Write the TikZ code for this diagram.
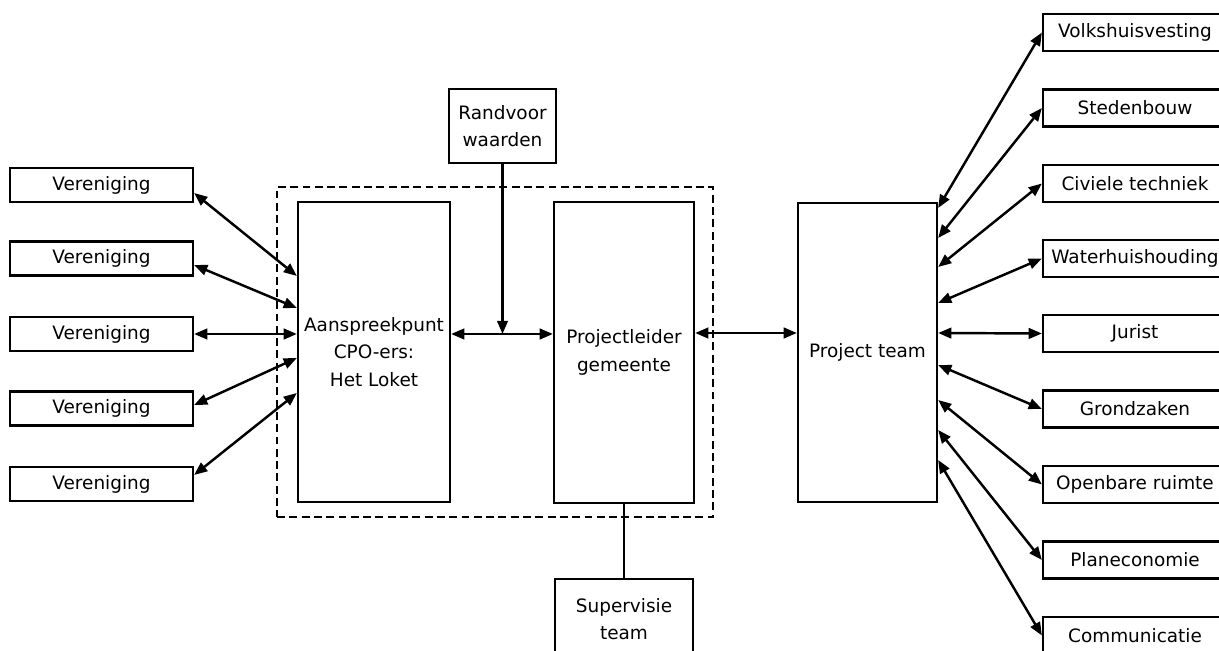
\documentclass[tikz,border=0pt]{standalone}
\usepackage{fontspec}
\setmainfont{DejaVu Sans}
\usetikzlibrary{arrows.meta,calc}

\tikzset{
  box/.style={draw, line width=1.3pt, fill=white, inner sep=0pt, align=center,
              font=\fontsize{10.5}{15.5}\selectfont},
  vbox/.style={box, minimum width=3.66cm, minimum height=0.68cm},
  dbox/.style={box, minimum width=3.68cm, minimum height=0.74cm},
  tip/.style={Triangle[length=7.5pt,width=6pt]},
  link/.style={line width=1.4pt, {Triangle[length=7.5pt,width=6pt]}-{Triangle[length=7.5pt,width=6pt]}},
  feed/.style={line width=1.4pt, -{Triangle[length=7.5pt,width=6pt]}},
  plain/.style={line width=1.2pt},
  group/.style={draw, line width=1.4pt, dash pattern=on 4.5pt off 2.5pt,
                inner sep=0pt, minimum width=8.72cm, minimum height=6.6cm}
}

\begin{document}
\begin{tikzpicture}[x=0.02cm, y=-0.02cm]
  \useasboundingbox (0,0) rectangle (1219,651);
  \fill[white] (0,0) rectangle (1219,651);
  \clip (0,0) rectangle (1219,651);

  % dashed frame round the municipal core
  \node[group] (grp) at (495,352) {};

  % associations
  \node[vbox] (v1) at (101.5,185)   {Vereniging};
  \node[vbox] (v2) at (101.5,258.5) {Vereniging};
  \node[vbox] (v3) at (101.5,334)   {Vereniging};
  \node[vbox] (v4) at (101.5,408.5) {Vereniging};
  \node[vbox] (v5) at (101.5,484)   {Vereniging};

  % core blocks
  \node[box, minimum width=3.04cm, minimum height=6cm] (ap) at (374,352)
       {Aanspreekpunt\\CPO-ers:\\Het Loket};
  \node[box, minimum width=2.8cm, minimum height=6.02cm] (pl) at (624,352.5)
       {Projectleider\\gemeente};
  \node[box, minimum width=2.14cm, minimum height=1.48cm] (rv) at (502.5,126)
       {Randvoor\\waarden};
  \node[box, minimum width=2.76cm, minimum height=1.62cm] (sv) at (624,619.5)
       {Supervisie\\team};
  \node[box, minimum width=2.78cm, minimum height=5.98cm] (pt) at (867.5,352.5)
       {Project team};

  % departments
  \node[dbox] (d1) at (1135,32.5)  {Volkshuisvesting};
  \node[dbox] (d2) at (1135,108)   {Stedenbouw};
  \node[dbox] (d3) at (1135,183.5) {Civiele techniek};
  \node[dbox] (d4) at (1135,258.5) {Waterhuishouding};
  \node[dbox] (d5) at (1135,333.5) {Jurist};
  \node[dbox] (d6) at (1135,409)   {Grondzaken};
  \node[dbox] (d7) at (1135,484.5) {Openbare ruimte};
  \node[dbox] (d8) at (1135,560)   {Planeconomie};
  \node[dbox] (d9) at (1135,635.5) {Communicatie};

  % associations <-> desk
  \draw[link] ($(v1.east)+(0,8)$)   -- (ap.west |- 0,276);
  \draw[link] ($(v2.east)+(0,6.5)$) -- (ap.west |- 0,308);
  \draw[link] (v3.east)             -- (ap.west |- 0,334);
  \draw[link] ($(v4.east)+(0,-3.5)$) -- (ap.west |- 0,358);
  \draw[link] ($(v5.east)+(0,-9)$)  -- (ap.west |- 0,393);

  % desk <-> project leader, preconditions feeding in
  \coordinate (mid) at (rv.south |- 0,334);
  \draw[link] (ap.east |- 0,334) -- (pl.west |- 0,334);
  \draw[feed] (rv.south) -- (mid);
  \draw[plain] (pl.south) -- (sv.north);

  % project leader <-> project team
  \draw[link] (pl.east |- 0,333) -- (pt.west |- 0,333);

  % project team <-> departments
  \draw[link] (pt.east |- 0,208) -- (d1.west);
  \draw[link] (pt.east |- 0,238) -- (d2.west);
  \draw[link] (pt.east |- 0,267) -- (d3.west);
  \draw[link] (pt.east |- 0,303) -- (d4.west);
  \draw[link] (pt.east |- 0,333) -- (d5.west);
  \draw[link] (pt.east |- 0,365) -- (d6.west);
  \draw[link] (pt.east |- 0,400) -- (d7.west);
  \draw[link] (pt.east |- 0,430) -- (d8.west);
  \draw[link] (pt.east |- 0,460) -- (d9.west);
\end{tikzpicture}
\end{document}
